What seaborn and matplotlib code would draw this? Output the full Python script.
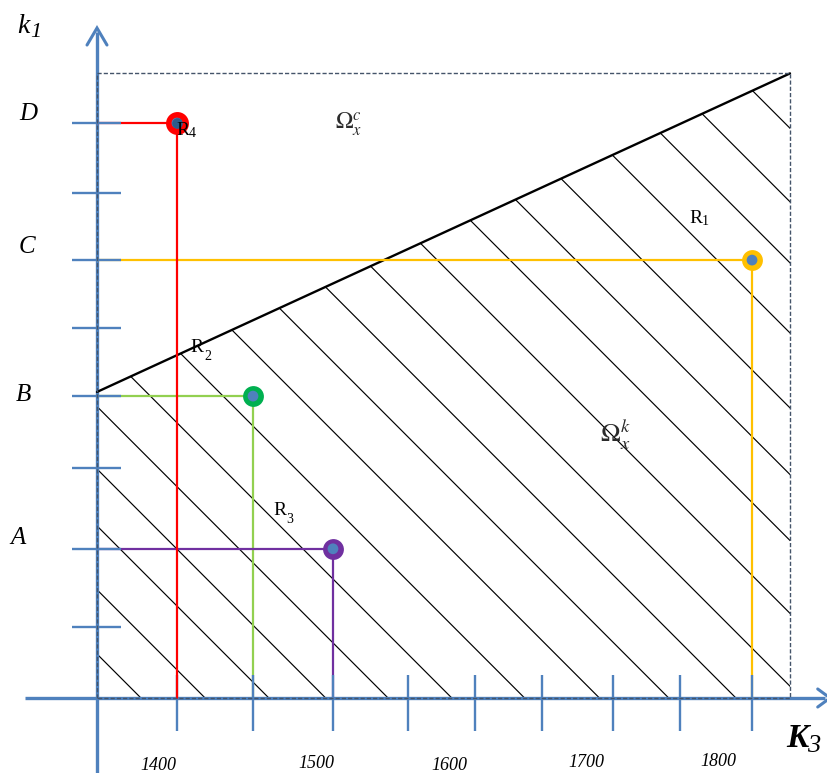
import matplotlib
matplotlib.use("Agg")
import matplotlib.pyplot as plt
from matplotlib.patches import Polygon
import numpy as np
import pandas as pd
import seaborn as sns

# ---- diagram data (abstract units, origin at the axes crossing) ----
box_w, box_h = 10.0, 9.0                      # dashed region limits
boundary_left, boundary_right = 4.41, 9.0     # k1 of the dividing line at K3 = 0 and K3 = box_w

x_ticks = [1.154, 2.251, 3.405, 4.488, 5.455, 6.421, 7.446, 8.413, 9.452]
y_ticks = [8.285, 7.27, 6.31, 5.33, 4.35, 3.31, 2.15, 1.02]

x_tick_labels = ["1400", "1500", "1600", "1700", "1800"]
x_label_pos = [0.880, 3.160, 5.079, 7.056, 8.961]
x_label_base = [-1.037, -1.009, -1.040, -0.994, -0.980]

level_names = ["D", "C", "B", "A"]
level_label_x = [-0.996, -1.010, -1.068, -1.133]
level_label_base = [8.329, 6.412, 4.280, 2.219]

# observed points R4, green, purple, R1
pt_x = [1.154, 2.251, 3.405, 9.452]
pt_y = [8.285, 4.35, 2.15, 6.31]
pt_line_color = ["#FF0000", "#92D050", "#7030A0", "#FFC000"]
pt_ring_color = ["#FF0000", "#00B050", "#7030A0", "#FFC000"]
pt_core_color = ["#2E5C8A", "#4F81BD", "#4F81BD", "#4F81BD"]
pt_ring_size = [16.5, 15, 15, 15]

# region labels R1..R4: (R x, R baseline, index x, index baseline)
r_names = ["4", "2", "3", "1"]
r_x = [1.234, 1.436, 2.641, 8.636]
r_base = [8.112, 4.986, 2.637, 6.844]
r_sub_x = [1.378, 1.595, 2.785, 8.773]
r_sub_base = [8.084, 4.870, 2.522, 6.816]

# hatch line offsets (lines K3 + k1 = c)
hatch_c = [0.634, 1.56, 2.48, 3.30, 4.20, 5.12, 6.17, 7.25, 8.25, 9.22,
           10.17, 11.22, 12.27, 13.22, 14.18, 15.26, 16.27, 17.15, 18.21]

AXIS_BLUE = "#4F81BD"
BOX_GRAY = "#44546A"
SERIF = "Liberation Serif"

sns.set_theme(style="white")
plt.rcParams["mathtext.fontset"] = "stix"

fig = plt.figure(figsize=(8.27, 7.73), dpi=100)
ax = fig.add_axes([0, 0, 1, 1])
ax.set_xlim(-97 / 69.3, 730 / 69.3)
ax.set_ylim(-75 / 69.4, 698 / 69.4)
ax.axis("off")

# ---- hatched feasible region below the dividing line ----
region = Polygon([(0, 0), (box_w, 0), (box_w, box_h), (0, boundary_left)],
                 closed=True, facecolor="none", edgecolor="none")
ax.add_patch(region)
for c in hatch_c:
    ln, = ax.plot([c - 14, c + 2], [14, -2], color="black", lw=0.85, zorder=2)
    ln.set_clip_path(region)

# dividing line
sns.lineplot(x=[0, box_w], y=[boundary_left, boundary_right], color="black",
             lw=1.7, ax=ax, zorder=4)

# ---- coordinate axes ----
ax.plot([-1.04, 10.50], [0, 0], color=AXIS_BLUE, lw=2.4, zorder=3,
        solid_capstyle="butt")
ax.plot([0, 0], [-1.2, 9.60], color=AXIS_BLUE, lw=2.4, zorder=3,
        solid_capstyle="butt")
# open arrow heads
ax.plot([-0.144, 0, 0.144], [9.409, 9.654, 9.409], color=AXIS_BLUE, lw=2.2,
        zorder=3, solid_joinstyle="miter")
ax.plot([10.40, 10.577, 10.40], [0.13, 0, -0.13], color=AXIS_BLUE, lw=2.2,
        zorder=3, solid_joinstyle="miter")

# tick marks
for xt in x_ticks:
    ax.plot([xt, xt], [-0.475, 0.33], color=AXIS_BLUE, lw=1.7, zorder=5,
            solid_capstyle="butt")
for yt in y_ticks:
    ax.plot([-0.36, 0.346], [yt, yt], color=AXIS_BLUE, lw=1.7, zorder=5,
            solid_capstyle="butt")

# dashed outline of the parameter box
ax.plot([0, 0, box_w, box_w, 0], [0, box_h, box_h, 0, 0], color=BOX_GRAY,
        lw=1.0, ls=(0, (3, 1.5)), zorder=6)

# ---- guide lines and points ----
for i in range(len(pt_x)):
    col = pt_line_color[i]
    ax.plot([0, pt_x[i]], [pt_y[i], pt_y[i]], color=col, lw=1.6, zorder=4.5)
    vz = 5.5 if i == 0 else 4.5
    ax.plot([pt_x[i], pt_x[i]], [pt_y[i], 0], color=col, lw=1.6, zorder=vz)

pts = pd.DataFrame({"x": pt_x, "y": pt_y})
for i in range(len(pt_x)):
    ax.plot(pt_x[i], pt_y[i], "o", ms=pt_ring_size[i], color=pt_ring_color[i],
            mec="none", zorder=7)
sns.scatterplot(data=pts, x="x", y="y", s=60, color=pt_core_color[1],
                edgecolor="none", ax=ax, zorder=8, legend=False)
ax.plot(pt_x[0], pt_y[0], "o", ms=7.6, color=pt_core_color[0], mec="none",
        zorder=9)

# ---- text ----
for name, xx, bb in zip(level_names, level_label_x, level_label_base):
    ax.text(xx, bb, name, family=SERIF, style="italic", fontsize=18,
            ha="center", va="baseline", color="black")
for lab, xx, bb in zip(x_tick_labels, x_label_pos, x_label_base):
    ax.text(xx, bb, lab, family=SERIF, style="italic", fontsize=13,
            ha="center", va="baseline", color="black")

for n, rx, rb, sx, sb in zip(r_names, r_x, r_base, r_sub_x, r_sub_base):
    ax.text(rx, rb, "R", family=SERIF, fontsize=14, ha="center",
            va="baseline", color="black", zorder=10)
    ax.text(sx, sb, n, family=SERIF, fontsize=10, ha="center",
            va="baseline", color="black", zorder=10)

# axis names
ax.text(-1.068, 9.582, "k", family=SERIF, style="italic", fontsize=20,
        ha="center", va="baseline", color="black")
ax.text(-0.880, 9.524, "1", family=SERIF, style="italic", fontsize=16,
        ha="center", va="baseline", color="black")
ax.text(10.100, -0.706, "K", family=SERIF, style="italic", weight="bold",
        fontsize=24, ha="center", va="baseline", color="black")
ax.text(10.345, -0.778, "3", family=SERIF, style="italic", fontsize=19,
        ha="center", va="baseline", color="black")

# region names
ax.text(3.434, 8.199, r"$\Omega_x^c$", fontsize=17, ha="left",
        va="baseline", color="#2B2B2B")
ax.text(7.258, 3.674, r"$\Omega_x^k$", fontsize=19, ha="left",
        va="baseline", color="#2B2B2B", zorder=10)

fig.savefig("out.png", dpi=100)
